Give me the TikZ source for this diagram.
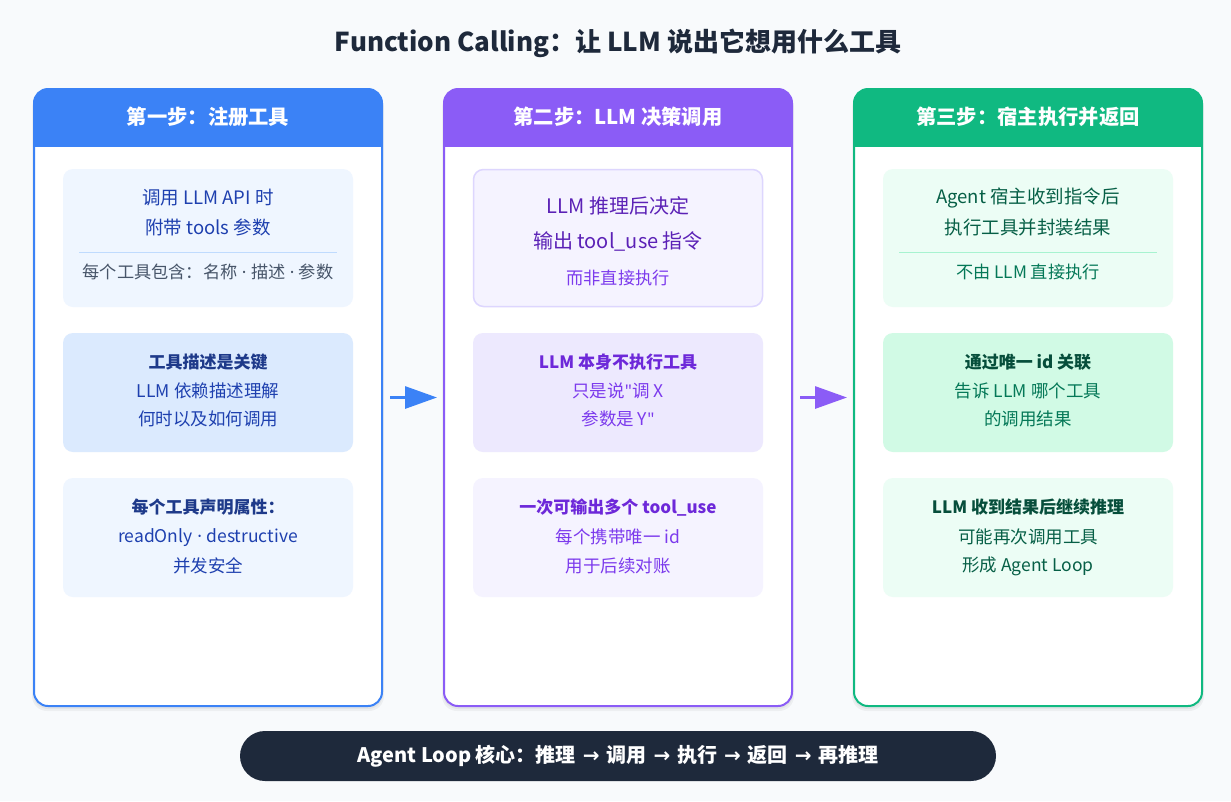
\documentclass[tikz,border=0pt]{standalone}
\usepackage{fontspec}
\setmainfont{Noto Sans CJK SC}[Ligatures=TeXOff]
\newfontfamily\latinf{Noto Sans}[Ligatures=TeXOff]
\newfontfamily\arrowf{DejaVu Sans}
\usetikzlibrary{arrows.meta}
\definecolor{bg}{HTML}{F8FAFC}
\definecolor{ink}{HTML}{1E293B}
\definecolor{cblue}{HTML}{3B82F6}
\definecolor{cpurple}{HTML}{8B5CF6}
\definecolor{cgreen}{HTML}{10B981}
\definecolor{bl1}{HTML}{EFF6FF}
\definecolor{bl2}{HTML}{DBEAFE}
\definecolor{blsep}{HTML}{BFDBFE}
\definecolor{bltxt}{HTML}{1E40AF}
\definecolor{bltitle}{HTML}{1E3A8A}
\definecolor{graytxt}{HTML}{475569}
\definecolor{pu1}{HTML}{F5F3FF}
\definecolor{pu2}{HTML}{EDE9FE}
\definecolor{puedge}{HTML}{DDD6FE}
\definecolor{putxt}{HTML}{5B21B6}
\definecolor{putitle}{HTML}{6D28D9}
\definecolor{pusub}{HTML}{7C3AED}
\definecolor{gr1}{HTML}{ECFDF5}
\definecolor{gr2}{HTML}{D1FAE5}
\definecolor{grsep}{HTML}{A7F3D0}
\definecolor{grtxt}{HTML}{065F46}
\definecolor{grtitle}{HTML}{064E3B}
\definecolor{grsub}{HTML}{047857}
\newcommand{\tx}[1]{\rule[-0.12em]{0pt}{1em}#1}
\newcommand{\md}{{\latinf\ ·\ }}
\newcommand{\ar}{{\arrowf\ →\ }}
\tikzset{
  column/.style={rounded corners=14pt, minimum width=348pt, minimum height=617pt, inner sep=0pt, outer sep=0pt, fill=white},
  card/.style={rounded corners=10pt, minimum width=290pt, inner sep=0pt, outer sep=0pt},
  txt/.style={inner sep=0pt, outer sep=0pt, anchor=center, align=center},
  ttl/.style={txt, font=\fontsize{26}{30}\selectfont\bfseries, text=ink},
  head/.style={txt, font=\fontsize{20.3}{24}\selectfont\bfseries, text=white},
  bigt/.style={txt, font=\fontsize{18.5}{22}\selectfont},
  bigp/.style={txt, font=\fontsize{20}{24}\selectfont},
  subt/.style={txt, font=\fontsize{17.2}{20}\selectfont},
  ctitle/.style={txt, font=\fontsize{17}{20}\selectfont\bfseries},
  body/.style={txt, font=\fontsize{17.5}{20}\selectfont},
  flow/.style={line width=3pt, -{Triangle[length=32pt,width=22pt]}, shorten <=8pt, shorten >=7pt},
  shadow/.style={fill=black, opacity=0.045, rounded corners=15pt},
}
\begin{document}
\begin{tikzpicture}[x=1pt,y=-1pt]
\fill[bg] (0,0) rectangle (1231,801);
\useasboundingbox (0,0) rectangle (1231,801);

\node[ttl] (title) at (618,43) {\tx{Function Calling：让 LLM 说出它想用什么工具}};

% shadows
\foreach \cx in {208,618,1028}{
  \fill[shadow] (\cx-176,93) rectangle (\cx+176,711);
  \fill[shadow] (\cx-175,91) rectangle (\cx+175,709);
}

% columns
\node[column] (c1) at (208,397.5) {};
\node[column] (c2) at (618,397.5) {};
\node[column] (c3) at (1028,397.5) {};

\begin{scope}
  \clip[rounded corners=14pt] (34,89) rectangle (382,706);
  \fill[cblue] (34,89) rectangle (382,147);
\end{scope}
\begin{scope}
  \clip[rounded corners=14pt] (444,89) rectangle (792,706);
  \fill[cpurple] (444,89) rectangle (792,147);
\end{scope}
\begin{scope}
  \clip[rounded corners=14pt] (854,89) rectangle (1202,706);
  \fill[cgreen] (854,89) rectangle (1202,147);
\end{scope}
\draw[cblue, line width=2pt, rounded corners=14pt] (c1.north west) rectangle (c1.south east);
\draw[cpurple, line width=2pt, rounded corners=14pt] (c2.north west) rectangle (c2.south east);
\draw[cgreen, line width=2pt, rounded corners=14pt] (c3.north west) rectangle (c3.south east);

\node[head] (h1) at (208,117) {\tx{第一步：注册工具}};
\node[head] (h2) at (618,117) {\tx{第二步：LLM 决策调用}};
\node[head] (h3) at (1028,117) {\tx{第三步：宿主执行并返回}};

% ---- column 1 cards
\node[card, fill=bl1, minimum height=138pt] (a1) at (208,238) {};
\node[card, fill=bl2, minimum height=119pt] (a2) at (208,392.5) {};
\node[card, fill=bl1, minimum height=119pt] (a3) at (208,537.5) {};

\node[bigt, text=bltxt] (a1l1) at (208,197) {\tx{调用 LLM API 时}};
\node[bigt, text=bltxt] (a1l2) at (208,227) {\tx{附带 tools 参数}};
\draw[blsep, line width=1pt] (79,252) -- (337,252);
\node[subt, text=graytxt] (a1l3) at (208,272) {\tx{每个工具包含：名称\md 描述\md 参数}};

\node[ctitle, text=bltitle] (a2l1) at (208,362) {\tx{工具描述是关键}};
\node[body, text=bltxt] (a2l2) at (208,391) {\tx{LLM 依赖描述理解}};
\node[body, text=bltxt] (a2l3) at (208,419) {\tx{何时以及如何调用}};

\node[ctitle, text=bltitle] (a3l1) at (208,507) {\tx{每个工具声明属性：}};
\node[body, text=bltxt] (a3l2) at (208,537) {\tx{readOnly\md destructive}};
\node[body, text=bltxt] (a3l3) at (208,566) {\tx{并发安全}};

% ---- column 2 cards
\node[card, fill=pu1, draw=puedge, line width=1.5pt, minimum height=137pt, minimum width=289pt] (b1) at (618,238) {};
\node[card, fill=pu2, minimum height=119pt] (b2) at (618,392.5) {};
\node[card, fill=pu1, minimum height=119pt] (b3) at (618,537.5) {};

\node[bigp, text=putxt] (b1l1) at (618,206) {\tx{LLM 推理后决定}};
\node[bigp, text=putxt] (b1l2) at (618,241) {\tx{输出 tool\_use 指令}};
\node[subt, text=pusub] (b1l3) at (618,278) {\tx{而非直接执行}};

\node[ctitle, text=putitle] (b2l1) at (618,362) {\tx{LLM 本身不执行工具}};
\node[body, text=pusub] (b2l2) at (618,391) {\tx{只是说{\latinf "}调 X}};
\node[body, text=pusub] (b2l3) at (618,419) {\tx{参数是 Y{\latinf "}}};

\node[ctitle, text=putitle] (b3l1) at (618,507) {\tx{一次可输出多个 tool\_use}};
\node[body, text=pusub] (b3l2) at (618,537) {\tx{每个携带唯一 id}};
\node[body, text=pusub] (b3l3) at (618,566) {\tx{用于后续对账}};

% ---- column 3 cards
\node[card, fill=gr1, minimum height=138pt] (g1) at (1028,238) {};
\node[card, fill=gr2, minimum height=119pt] (g2) at (1028,392.5) {};
\node[card, fill=gr1, minimum height=119pt] (g3) at (1028,537.5) {};

\node[bigt, text=grtxt] (g1l1) at (1028,198) {\tx{Agent 宿主收到指令后}};
\node[bigt, text=grtxt] (g1l2) at (1028,227) {\tx{执行工具并封装结果}};
\draw[grsep, line width=1pt] (899,252) -- (1157,252);
\node[subt, text=grsub] (g1l3) at (1028,272) {\tx{不由 LLM 直接执行}};

\node[ctitle, text=grtitle] (g2l1) at (1028,362) {\tx{通过唯一 id 关联}};
\node[body, text=grsub] (g2l2) at (1028,391) {\tx{告诉 LLM 哪个工具}};
\node[body, text=grsub] (g2l3) at (1028,419) {\tx{的调用结果}};

\node[ctitle, text=grtitle] (g3l1) at (1028,507) {\tx{LLM 收到结果后继续推理}};
\node[body, text=grtxt] (g3l2) at (1028,537) {\tx{可能再次调用工具}};
\node[body, text=grtxt] (g3l3) at (1028,566) {\tx{形成 Agent Loop}};

% ---- arrows
\draw[flow, cblue] (c1.east) -- (c2.west);
\draw[flow, cpurple] (c2.east) -- (c3.west);

% ---- bottom bar
\node[fill=ink, rounded corners=25pt, minimum width=756pt, minimum height=50pt, inner sep=0pt,
      text=white, font=\fontsize{20}{24}\selectfont\bfseries] (loop) at (618,756)
      {\tx{Agent Loop 核心：推理\ar 调用\ar 执行\ar 返回\ar 再推理}};
\end{tikzpicture}
\end{document}
